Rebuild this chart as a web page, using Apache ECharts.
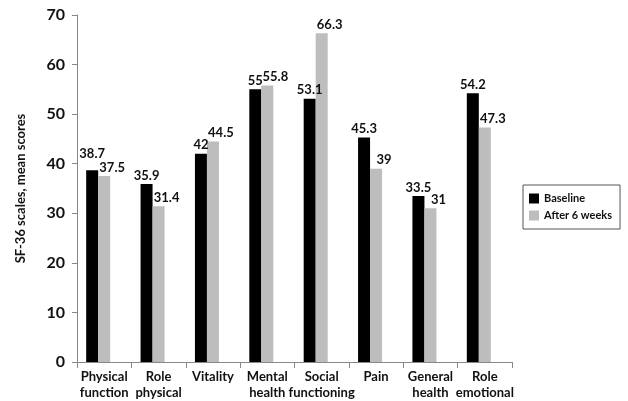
<!DOCTYPE html>
<html>
<head>
<meta charset="utf-8">
<script src="https://cdn.jsdelivr.net/npm/echarts@6/dist/echarts.min.js"></script>
<style>html,body{margin:0;padding:0;background:#fff}#main{width:628px;height:401px}</style>
</head>
<body>
<div id="main"></div>
<script>
var categories = ['Physical\nfunction', 'Role\nphysical', 'Vitality', 'Mental\nhealth', 'Social\nfunctioning', 'Pain', 'General\nhealth', 'Role\nemotional'];
var baseline = [38.7, 35.9, 42, 55, 53.1, 45.3, 33.5, 54.2];
var after6 = [37.5, 31.4, 44.5, 55.8, 66.3, 39, 31, 47.3];
var yTicks = [0, 10, 20, 30, 40, 50, 60, 70];

var chart = echarts.init(document.getElementById('main'));
var font = 'Lato, "Open Sans", sans-serif';
var option = {
	animation: false,
	textStyle: { fontFamily: font },
	grid: { left: 77, right: 116, top: 15, bottom: 36 },
	legend: {
		orient: 'vertical',
		left: 523, top: 185,
		padding: [8, 8, 8, 6],
		borderColor: '#555', borderWidth: 1,
		itemWidth: 10, itemHeight: 10, itemGap: 6,
		icon: 'rect',
		textStyle: { fontSize: 11, fontWeight: 'bold', color: '#111', fontFamily: font },
		data: ['Baseline', 'After 6 weeks']
	},
	xAxis: {
		type: 'category',
		data: categories,
		axisLine: { lineStyle: { color: '#888' } },
		axisTick: { show: true, length: 6, lineStyle: { color: '#888' } },
		axisLabel: { interval: 0, align: 'center', fontSize: 13, fontWeight: 'bold', color: '#111', lineHeight: 16, margin: 7, fontFamily: font }
	},
	yAxis: {
		type: 'value',
		min: yTicks[0], max: yTicks[yTicks.length - 1], interval: 10,
		name: 'SF-36 scales, mean scores',
		nameLocation: 'middle', nameGap: 50,
		nameTextStyle: { fontSize: 13, fontWeight: 'bold', color: '#111', fontFamily: font },
		splitLine: { show: false },
		axisLine: { show: true, lineStyle: { color: '#888' } },
		axisTick: { show: true, length: 5, lineStyle: { color: '#888' } },
		axisLabel: { fontSize: 16, fontWeight: 'bold', color: '#111', margin: 12, fontFamily: font }
	},
	series: [
		{
			name: 'Baseline', type: 'bar', data: baseline,
			barWidth: 12, barGap: '0%',
			itemStyle: { color: '#000' },
			label: { show: true, position: 'top', distance: 2, offset: [-2, 0], fontSize: 13, fontWeight: 'bold', color: '#111', fontFamily: font },
			// lift the label when the two bars are almost the same height
			labelLayout: function (p) {
				var d = baseline[p.dataIndex] - after6[p.dataIndex];
				return (d > 0 && d < 2) ? { dy: -8 } : {};
			}
		},
		{
			name: 'After 6 weeks', type: 'bar', data: after6,
			barWidth: 12, barGap: '0%',
			itemStyle: { color: '#bdbdbd' },
			label: { show: true, position: 'top', distance: 2, offset: [8, 0], fontSize: 13, fontWeight: 'bold', color: '#111', fontFamily: font }
		},
		{
			// empty slot so the bar pair sits left of the category centre
			name: 'spacer', type: 'bar', data: [],
			barWidth: 12, barGap: '0%', silent: true
		}
	]
};
chart.setOption(option);
</script>
</body>
</html>
